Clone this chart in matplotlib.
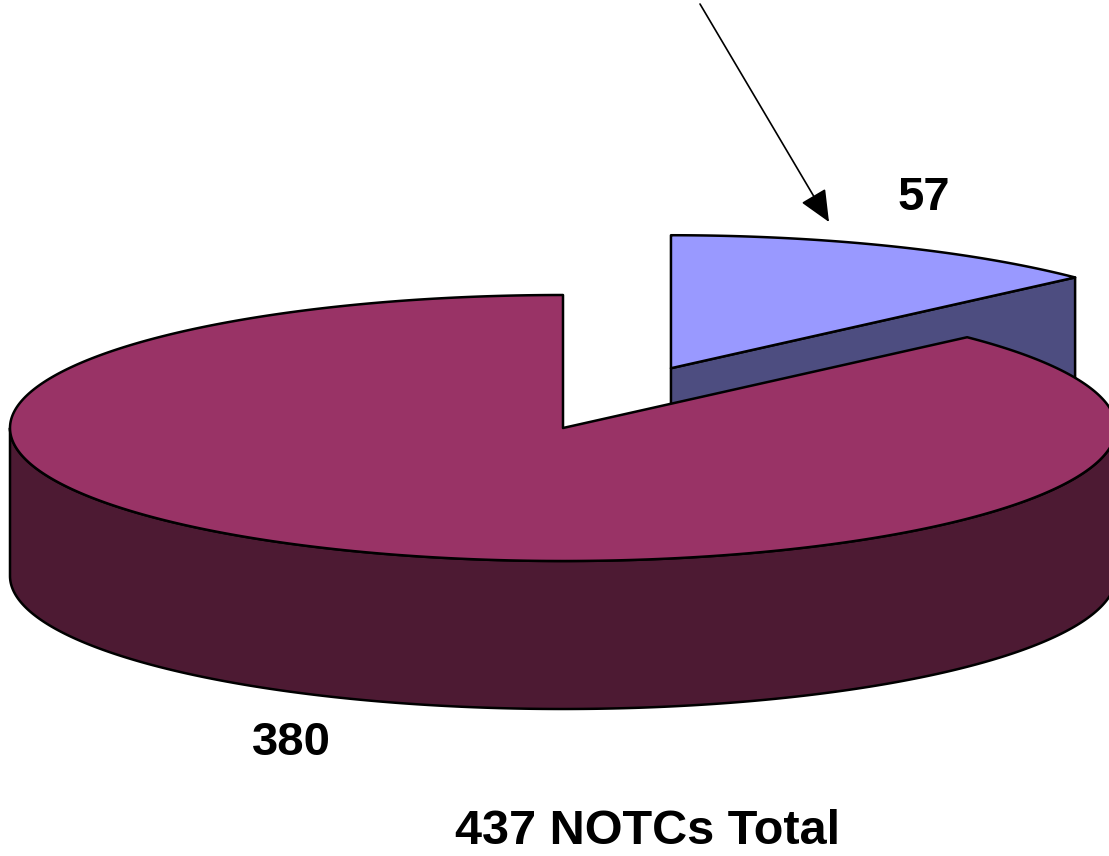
import numpy as np
import matplotlib
matplotlib.use('Agg')
from matplotlib import pyplot as plt
from matplotlib.patches import Polygon

# data
labels = ['57', '380']
values = [57, 380]
total_label = '437 NOTCs Total'
top_colors = ['#9999ff', '#993366']
side_colors = ['#4d4d80', '#4d1a33']
explode = [0.49, 0.0]

# pie geometry in pixel space
cx, cy = 563, 428
a, b = 553, 133
depth = 148

fig = plt.figure(figsize=(11.09, 8.56), dpi=100)
ax = fig.add_axes([0, 0, 1, 1])
ax.set_xlim(0, 1109)
ax.set_ylim(856, 0)
ax.axis('off')


def pt(theta, ox=0.0, oy=0.0, dz=0.0):
    t = np.radians(theta)
    return (ox + a * np.cos(t), oy - b * np.sin(t) + dz)


def arc(t0, t1, ox, oy, dz=0.0, n=300):
    return [pt(t, ox, oy, dz=dz) for t in np.linspace(t0, t1, n)]


# slice angles, clockwise from 12 o'clock
total = sum(values)
ext = 360.0 * values[0] / total
spans = [(90.0 - ext, 90.0), (90.0, 450.0 - ext)]

kw = dict(edgecolor='black', linewidth=1.8, joinstyle='round')

# small (exploded) slice
t0, t1 = spans[0]
mid = np.radians((t0 + t1) / 2)
ox = cx + a * explode[0] * np.cos(mid)
oy = cy - b * explode[0] * np.sin(mid)
r0 = pt(t0, ox, oy)
side = [(ox, oy), r0, (r0[0], r0[1] + depth), (ox, oy + depth)]
ax.add_patch(Polygon(side, closed=True, facecolor=side_colors[0], **kw))
top = [(ox, oy)] + arc(t0, t1, ox, oy)
ax.add_patch(Polygon(top, closed=True, facecolor=top_colors[0], **kw))

# big slice
t0, t1 = spans[1]
s0, s1 = max(t0, 180), min(t1, 360)
wall = arc(s0, s1, cx, cy) + arc(s1, s0, cx, cy, dz=depth)
ax.add_patch(Polygon(wall, closed=True, facecolor=side_colors[1], **kw))
top = [(cx, cy)] + arc(t0, t1, cx, cy, n=500)
ax.add_patch(Polygon(top, closed=True, facecolor=top_colors[1], **kw))

font = dict(family=['Liberation Sans', 'DejaVu Sans'], fontweight='bold',
            color='black', ha='center', va='center')
ax.text(924, 198, labels[0], fontsize=34, **font)
ax.text(291, 743, labels[1], fontsize=34, **font)
ax.text(648, 832, total_label, fontsize=35, **font)

ax.annotate('', xy=(829, 222), xytext=(700, 4),
            arrowprops=dict(arrowstyle='-|>,head_length=0.9,head_width=0.4',
                            color='black', lw=1.2, mutation_scale=22,
                            shrinkA=0, shrinkB=0))

fig.savefig('out.png', dpi=100)
